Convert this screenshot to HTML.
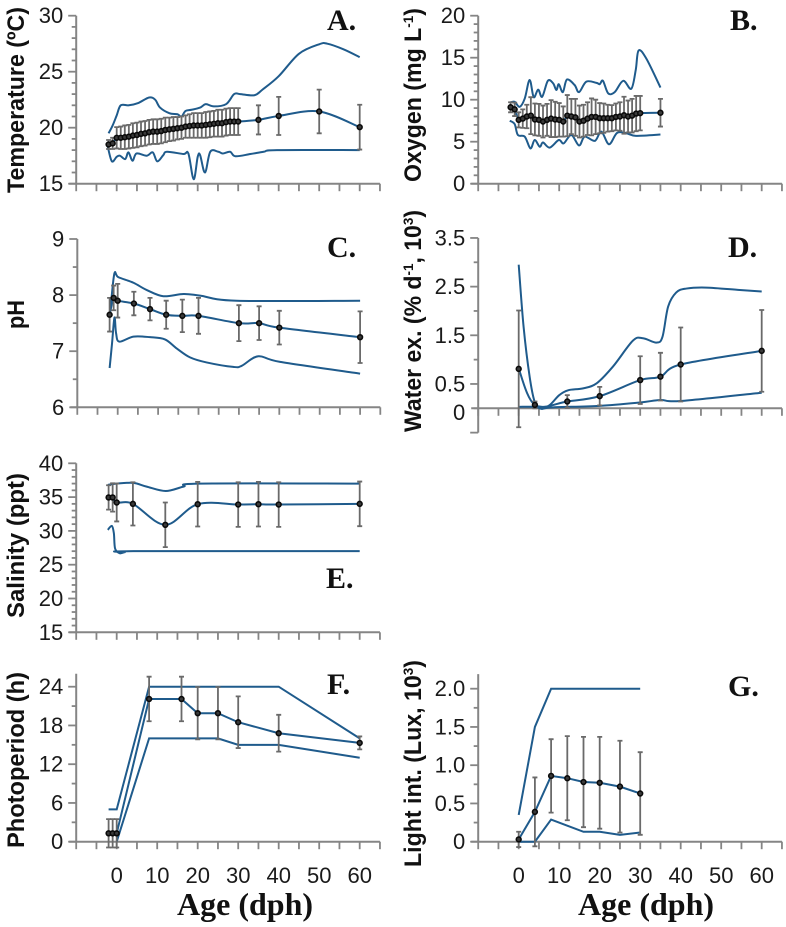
<!DOCTYPE html>
<html lang="en">
<head>
<meta charset="utf-8">
<title>Rearing conditions by age</title>
<style>
html,body{margin:0;padding:0;background:#fff;}
svg{display:block;}
.ytitle{font-family:"Liberation Sans",sans-serif;font-weight:bold;font-size:24px;fill:#111;}
.letter{font-family:"Liberation Serif",serif;font-weight:bold;font-size:30px;fill:#111;}
.agetitle{font-family:"Liberation Serif",serif;font-weight:bold;font-size:32px;fill:#111;}
.tick{font-family:"Liberation Sans",sans-serif;font-size:22px;fill:#1a1a1a;}
</style>
</head>
<body>
<svg id="figure" xmlns="http://www.w3.org/2000/svg" width="786" height="927" viewBox="0 0 786 927">
  <rect width="786" height="927" fill="#fff"/>
  <text class="ytitle" transform="translate(24,193) rotate(-90)" textLength="186" lengthAdjust="spacingAndGlyphs">Temperature (ºC)</text>
  <text class="ytitle" transform="translate(421,182) rotate(-90)" textLength="174" lengthAdjust="spacingAndGlyphs">Oxygen (mg L<tspan font-size="14" dy="-8">-1</tspan><tspan dy="8">)</tspan></text>
  <text class="ytitle" transform="translate(24,329) rotate(-90)" textLength="29" lengthAdjust="spacingAndGlyphs">pH</text>
  <text class="ytitle" transform="translate(421,432) rotate(-90)" textLength="222" lengthAdjust="spacingAndGlyphs">Water ex. (% d<tspan font-size="14" dy="-8">-1</tspan><tspan dy="8">, 10</tspan><tspan font-size="14" dy="-8">3</tspan><tspan dy="8">)</tspan></text>
  <text class="ytitle" transform="translate(24,618) rotate(-90)" textLength="145" lengthAdjust="spacingAndGlyphs">Salinity (ppt)</text>
  <text class="ytitle" transform="translate(24,848) rotate(-90)" textLength="176" lengthAdjust="spacingAndGlyphs">Photoperiod (h)</text>
  <text class="ytitle" transform="translate(421,867) rotate(-90)" textLength="207" lengthAdjust="spacingAndGlyphs">Light int. (Lux, 10<tspan font-size="14" dy="-8">3</tspan><tspan dy="8">)</tspan></text>
  <text class="letter" x="327" y="30">A.</text>
  <text class="letter" x="730" y="30">B.</text>
  <text class="letter" x="327" y="257">C.</text>
  <text class="letter" x="728" y="257">D.</text>
  <text class="letter" x="326" y="588">E.</text>
  <text class="letter" x="327" y="694">F.</text>
  <text class="letter" x="728" y="696">G.</text>
  <text class="agetitle" x="177" y="915">Age (dph)</text>
  <text class="agetitle" x="578" y="915">Age (dph)</text>
</svg>
<script>
// Panel A: temperature
const agesA = [-2,-1,0,1,2,3,4,5,6,7,8,9,10,11,12,13,14,15,16,17,18,19,20,21,22,23,24,25,26,27,28,29,30,35,40,50,60];
const meanA = [18.5,18.6,19.1,19.1,19.15,19.2,19.3,19.35,19.45,19.5,19.6,19.65,19.65,19.7,19.8,19.85,19.9,19.95,20,20.1,20.15,20.2,20.2,20.2,20.25,20.3,20.35,20.4,20.4,20.5,20.55,20.55,20.55,20.7,21.05,21.45,20.05];
const errA = [0.4,0.5,0.95,1,1.05,1.05,1.1,1.1,1.1,1.1,1.1,1.1,1.1,1.1,1.1,1.05,1.05,1,1,1,1.05,1.1,1.1,1.1,1.15,1.15,1.15,1.2,1.2,1.2,1.2,1.2,1.2,1.3,1.7,1.95,2];
const upperAgesA = [-2,-1,0,1,3,5.3,8,9.5,10.7,13,15,16,17,18.5,20.6,22,24,27,29,30.5,34,36,40,45,50,52,56,60];
const upperA = [19.5,20.2,21.1,22,22,22.2,22.7,22.5,21.8,21.3,21.2,21,21.5,21.6,21.8,22.1,21.9,22.1,23,23,22.9,23.4,24.6,26.6,27.45,27.5,27,26.3];
const lowerAgesA = [-2.2,-1.2,0,0.8,2.1,2.9,3.9,4.9,7.4,8.9,10,11.5,12.4,16.5,17.7,19,20,20.6,21.8,23.1,25.1,26.2,28,29.3,33,36.3,39.6,60];
const lowerA = [18.3,17,17.4,17.5,17.2,17.8,17.05,17.7,17.5,17.8,17,17.55,17.85,17.65,17.7,15.4,17.4,17.55,16,17.85,17.85,17.7,17.85,17.45,17.65,17.85,18,18];
const yLabelsA = [15,20,25,30];

// Panel B: oxygen
const agesB = [-2,-1,0,1,2,3,4,5,6,7,8,9,10,11,12,13,14,15,16,17,18,19,20,21,22,23,24,25,26,27,28,29,30,35];
const meanB = [9.1,8.85,7.6,7.75,8,8.1,7.65,7.6,7.4,7.6,7.75,7.65,7.6,7.4,8.1,8,7.9,7.4,7.5,7.75,7.95,7.95,7.8,7.8,7.8,7.8,7.95,8,8.15,8,8.1,8.35,8.4,8.45];
const errB = [0.6,0.8,0.9,1.1,1.4,2.2,1.9,1.9,1.9,1.9,2.2,2.1,2,1.8,2.45,2.1,2.2,1.9,1.9,1.95,2.2,2.05,1.8,1.75,1.6,1.55,1.6,1.7,2.2,1.9,2,2.1,2.05,1.65];
const upperAgesB = [-2.2,-1,0.25,1.5,2.7,3.7,4.8,5.8,7.2,8.5,9.3,9.9,10.9,11.9,13.8,14.9,16.7,19.2,20,20.8,22.1,23.7,25.8,27.8,28.9,29.6,31.5,35];
const upperB = [9.65,9.75,9.15,10.15,12.35,10.3,11.2,10.35,12.25,11.95,11.15,11.85,10.9,12.4,11.75,10.9,12.15,12,11.85,12.25,10.75,10.9,12.25,11.3,13.55,15.85,14.9,11.45];
const lowerAgesB = [-2.2,-1,-0.2,1.5,2.9,3.95,5.2,6,7.65,9.9,11.1,13,14.9,16.3,18.8,20.4,22.3,24.3,26.6,29,35];
const lowerB = [7.5,7.1,5.8,5.6,4.2,5.2,4.4,4.9,4.3,5.2,4.8,5.8,4.55,5.6,5.1,6.2,4.7,6.05,6,5.7,5.85];
const yLabelsB = [0,5,10,15,20];

// Panel C: pH
const agesC = [-2,-1,0,4,8,12,16,20,30,35,40,60];
const meanC = [7.65,7.95,7.9,7.85,7.75,7.65,7.63,7.63,7.5,7.5,7.42,7.25];
const errC = [0.3,0.22,0.3,0.21,0.2,0.25,0.29,0.32,0.32,0.3,0.3,0.46];
const upperAgesC = [-2,-1.6,-0.8,0.15,3.9,7.2,11.3,16.3,20.4,29.5,60];
const upperC = [7.65,7.9,8.39,8.32,8.22,8.09,7.98,8.02,7.99,7.9,7.9];
const lowerAgesC = [-2,-1.4,-0.8,-0.4,0.4,3.9,8,11.7,14.6,17.9,22,28.6,30.7,34.8,40.2,60];
const lowerC = [6.7,7.14,7.6,7.32,7.17,7.26,7.25,7.21,7.05,6.89,6.8,6.72,6.74,6.91,6.81,6.6];
const yLabelsC = [6,7,8,9];

// Panel D: water exchange
const agesD = [0,4,12,20,30,35,40,60];
const meanD = [0.81,0.07,0.14,0.25,0.58,0.65,0.9,1.18];
const errD = [1.2,0.07,0.13,0.19,0.49,0.49,0.76,0.84];
const upperAgesD = [0,1.2,2.7,4,5.6,7.7,10,12.2,15.9,19.2,23.3,28.2,30.7,34,35.5,36.9,38.9,41.4,46.3,54.6,60];
const upperD = [2.95,1.68,0.65,0.12,-0.01,0.07,0.27,0.37,0.41,0.51,0.86,1.39,1.44,1.35,1.47,2.09,2.38,2.46,2.48,2.43,2.4];
const lowerAgesD = [0,4.4,5.6,8.5,20,30,35,40,60];
const lowerD = [0.03,0.03,-0.01,0.02,0.05,0.12,0.17,0.15,0.32];
const yLabelsD = [0,0.5,1.5,2.5,3.5];

// Panel E: salinity
const agesE = [-2,-1,0,4,12,20,30,35,40,60];
const meanE = [34.95,34.95,34.2,34,30.9,33.95,33.9,33.95,33.9,34];
const errE = [1.8,2.1,2.8,3.2,3.3,3.3,3.3,3.3,3.3,3.3];
const upperAgesE = [-2.2,0,4.1,7.4,12.1,16.5,20.6,60];
const upperE = [36.8,37,37.1,36.55,35.9,36.55,37,37];
const lowerAgesE = [-2.2,-1.2,-0.7,-0.4,0.7,2,4.1,60];
const lowerE = [30.15,30.75,29.65,27.4,26.7,26.85,27,27];
const yLabelsE = [15,20,25,30,35,40];

// Panel F: photoperiod
const agesF = [-2,-1,0,8,16,20,25,30,40,60];
const meanF = [1.3,1.3,1.3,22.1,22.1,19.9,19.9,18.5,16.8,15.3];
const errF = [2.2,2.2,2.2,3.45,3.45,4.05,4.05,4,2.85,1];
const upperAgesF = [-2,0,8,40,60];
const upperF = [5,5,24,24,16];
const lowerAgesF = [0,8,25,30,40,60];
const lowerF = [0,16,16,15,15,13];
const yLabelsF = [0,6,12,18,24];

// Panel G: light intensity
const agesG = [0,4,8,12,16,20,25,30];
const meanG = [0.03,0.39,0.86,0.83,0.78,0.77,0.72,0.63];
const errG = [0.1,0.45,0.48,0.55,0.59,0.6,0.6,0.54];
const upperAgesG = [0,4,8,30];
const upperG = [0.35,1.5,2,2];
const lowerAgesG = [0,4,8,12,16,20,25,30];
const lowerG = [0,0,0.29,0.21,0.13,0.13,0.09,0.12];
const yLabelsG = ['0','0.5','1.0','1.5','2.0'];

const xTickLabels = [0,10,20,30,40,50,60];

const NS = 'http://www.w3.org/2000/svg';
const figure = document.getElementById('figure');
const BLUE = '#1f5b8c', GREY = '#6a6a6a', AXIS = '#858585';

function make(parent, tag, attrs) {
  const node = document.createElementNS(NS, tag);
  for (const k in attrs) node.setAttribute(k, attrs[k]);
  parent.appendChild(node);
  return node;
}

function curve(xs, ys, sx, sy, smooth) {
  const p = xs.map((a, i) => [sx(a), sy(ys[i])]);
  let d = 'M' + p[0][0].toFixed(2) + ' ' + p[0][1].toFixed(2);
  for (let i = 0; i < p.length - 1; i++) {
    if (!smooth) { d += 'L' + p[i + 1][0].toFixed(2) + ' ' + p[i + 1][1].toFixed(2); continue; }
    const p0 = p[i - 1] || p[i], p1 = p[i], p2 = p[i + 1], p3 = p[i + 2] || p2;
    const k = 1 / 6;
    const c1x = p1[0] + (p2[0] - p0[0]) * k, c1y = p1[1] + (p2[1] - p0[1]) * k;
    const c2x = p2[0] - (p3[0] - p1[0]) * k, c2y = p2[1] - (p3[1] - p1[1]) * k;
    d += 'C' + [c1x, c1y, c2x, c2y, p2[0], p2[1]].map(v => v.toFixed(2)).join(' ');
  }
  return d;
}

function drawPanel(cfg) {
  const g = make(figure, 'g', {});
  
  

  const sx = a => cfg.x0 + a * cfg.unit;
  const sy = v => cfg.yBase + (cfg.vBase - v) * cfg.yUnit;
  const axisY = sy(cfg.xCross);
  const axisX = sx(-10);

  const yAxis = make(g, 'line', {x1: axisX, x2: axisX, y1: sy(cfg.yTop), y2: sy(cfg.yBottom), stroke: AXIS, 'stroke-width': 2});
  
  

  const xAxis = make(g, 'line', {x1: axisX - 7, x2: sx(65), y1: axisY, y2: axisY, stroke: AXIS, 'stroke-width': 2});
  
  

  for (let a = -10; a <= 65; a += 5) {
    const t = make(g, 'line', {x1: sx(a), x2: sx(a), y1: axisY, y2: axisY + 7.5, stroke: AXIS, 'stroke-width': 1.8});
    
    
  }
  const nMinor = Math.round((cfg.yTickTop - cfg.yBottom) / cfg.minor);
  for (let i = 0; i <= nMinor; i++) {
    const v = cfg.yTickTop - i * cfg.minor;
    const isMajor = Math.abs(((cfg.yTickTop - v) / cfg.major) - Math.round((cfg.yTickTop - v) / cfg.major)) < 1e-6;
    const t = make(g, 'line', {x1: axisX - (isMajor ? 8 : 4.5), x2: axisX, y1: sy(v), y2: sy(v), stroke: AXIS, 'stroke-width': 1.8});
    
    
  }
  cfg.yLabels.forEach(lab => {
    const v = Number(lab);
    const shift = (v === 0 && cfg.zeroShift) ? cfg.zeroShift : 0;
    const t = make(g, 'text', {class: 'tick', x: axisX - 13, y: sy(v) + 7.5 + shift, 'text-anchor': 'end'});
    t.textContent = lab;
    
    
  });
  if (cfg.showX) {
    xTickLabels.forEach(a => {
      const t = make(g, 'text', {class: 'tick', x: sx(a), y: 883, 'text-anchor': 'middle'});
      t.textContent = a;
      
      
    });
  }

  const up = make(g, 'path', {d: curve(cfg.upperAges, cfg.upper, sx, sy, cfg.smooth), fill: 'none', stroke: BLUE, 'stroke-width': 2});
  
  

  const low = make(g, 'path', {d: curve(cfg.lowerAges, cfg.lower, sx, sy, cfg.smooth), fill: 'none', stroke: BLUE, 'stroke-width': 2});
  
  

  const mean = make(g, 'path', {d: curve(cfg.ages, cfg.mean, sx, sy, cfg.smooth), fill: 'none', stroke: BLUE, 'stroke-width': 2});
  
  

  cfg.ages.forEach((a, i) => {
    const x = sx(a), top = sy(cfg.mean[i] + cfg.err[i]), bot = sy(cfg.mean[i] - cfg.err[i]);
    const bar = make(g, 'path', {
      d: 'M' + x + ' ' + top + 'V' + bot + 'M' + (x - 2.5) + ' ' + top + 'H' + (x + 2.5) + 'M' + (x - 2.5) + ' ' + bot + 'H' + (x + 2.5),
      fill: 'none', stroke: GREY, 'stroke-width': 1.8
    });
    
    
  });
  cfg.ages.forEach((a, i) => {
    const c = make(g, 'circle', {cx: sx(a), cy: sy(cfg.mean[i]), r: 2.4, fill: '#3a3a3a', stroke: '#0a0a0a', 'stroke-width': 1.6});
    
    
  });
}

const leftX = {x0: 116.7, unit: 4.05};
const rightX = {x0: 125.7, unit: 4.05};

drawPanel({key:'temperature', x0:leftX.x0, unit:leftX.unit, yBase:183.7, vBase:15, yUnit:11.2, xCross:15, yTop:30, yTickTop:30, yBottom:15, major:5, minor:1, yLabels:yLabelsA, showX:false, smooth:true,
  ages:agesA, mean:meanA, err:errA, upperAges:upperAgesA, upper:upperA, lowerAges:lowerAgesA, lower:lowerA});
drawPanel({key:'oxygen', x0:rightX.x0 + 393, unit:rightX.unit, yBase:183.7, vBase:0, yUnit:8.4, xCross:0, yTop:20, yTickTop:20, yBottom:0, major:5, minor:1, yLabels:yLabelsB, showX:false, smooth:true,
  ages:agesB, mean:meanB, err:errB, upperAges:upperAgesB, upper:upperB, lowerAges:lowerAgesB, lower:lowerB});
drawPanel({key:'ph', x0:117.7, unit:4.04, yBase:407.3, vBase:6, yUnit:56.1, xCross:6, yTop:9, yTickTop:9, yBottom:6, major:1, minor:0.5, yLabels:yLabelsC, showX:false, smooth:true,
  ages:agesC, mean:meanC, err:errC, upperAges:upperAgesC, upper:upperC, lowerAges:lowerAgesC, lower:lowerC});
drawPanel({key:'water-exchange', x0:rightX.x0 + 393, unit:rightX.unit, yBase:408.3, vBase:0, yUnit:48.67, xCross:0, yTop:3.5, yTickTop:3.5, yBottom:-0.5, major:1, minor:0.5, yLabels:yLabelsD, zeroShift:4, showX:false, smooth:true,
  ages:agesD, mean:meanD, err:errD, upperAges:upperAgesD, upper:upperD, lowerAges:lowerAgesD, lower:lowerD});
drawPanel({key:'salinity', x0:leftX.x0, unit:leftX.unit, yBase:632.3, vBase:15, yUnit:6.76, xCross:15, yTop:40, yTickTop:40, yBottom:15, major:5, minor:1, yLabels:yLabelsE, showX:false, smooth:true,
  ages:agesE, mean:meanE, err:errE, upperAges:upperAgesE, upper:upperE, lowerAges:lowerAgesE, lower:lowerE});
drawPanel({key:'photoperiod', x0:leftX.x0, unit:leftX.unit, yBase:841.7, vBase:0, yUnit:6.458, xCross:0, yTop:26, yTickTop:24, yBottom:0, major:6, minor:3, yLabels:yLabelsF, showX:true, smooth:false,
  ages:agesF, mean:meanF, err:errF, upperAges:upperAgesF, upper:upperF, lowerAges:lowerAgesF, lower:lowerF});
drawPanel({key:'light-intensity', x0:rightX.x0 + 393, unit:rightX.unit, yBase:841.7, vBase:0, yUnit:76.5, xCross:0, yTop:2.19, yTickTop:2, yBottom:0, major:0.5, minor:0.25, yLabels:yLabelsG, showX:true, smooth:false,
  ages:agesG, mean:meanG, err:errG, upperAges:upperAgesG, upper:upperG, lowerAges:lowerAgesG, lower:lowerG});
</script>
</body>
</html>
